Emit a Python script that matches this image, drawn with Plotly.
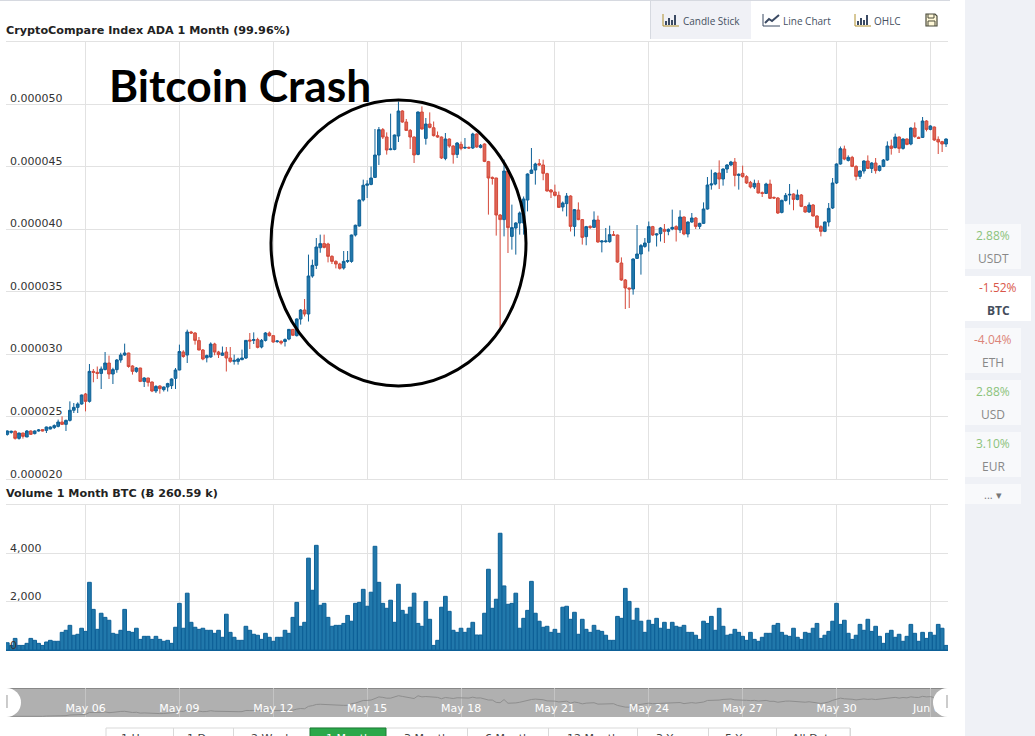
import pandas as pd
import plotly.graph_objects as go

W, H = 1035, 736

# ADA/BTC prices in millionths of a BTC, one candle every 3 hours
opens = [23.57,23.73,23.81,23.25,23.68,23.36,23.84,23.63,23.84,23.95,
 23.89,24.0,24.11,24.21,24.56,24.37,24.69,25.5,25.73,26.0,
 26.8,26.21,28.61,28.53,28.45,28.75,29.28,28.4,28.75,29.52,
 29.92,30.08,29.04,28.61,28.88,27.81,28.08,27.76,27.04,27.44,
 27.15,27.36,27.47,28.05,28.72,30.16,29.92,31.76,31.68,31.07,
 30.32,29.7,29.76,30.8,30.16,29.9,30.16,29.68,29.41,29.41,
 29.55,29.68,31.12,31.09,31.15,30.56,31.09,31.68,31.47,30.99,
 31.01,31.0,31.2,31.97,31.47,32.8,33.52,33.2,36.24,37.09,
 38.5,38.83,38.8,37.81,37.41,37.2,36.88,37.41,37.41,39.52,
 40.24,42.32,43.5,43.57,44.13,45.92,47.95,47.36,46.35,46.37,
 47.44,49.44,48.56,47.89,47.36,45.97,49.36,47.25,48.4,48.1,
 47.47,47.36,45.65,47.2,46.64,45.97,46.77,46.48,46.53,46.48,
 47.6,46.53,46.8,45.39,44.13,44.08,41.12,40.75,44.64,39.41,
 40.08,40.48,40.48,42.32,44.45,44.72,45.23,45.12,44.43,43.12,
 42.96,42.69,41.76,42.03,42.64,40.21,41.52,40.75,39.39,40.21,
 40.13,40.72,38.96,38.99,38.99,39.55,39.52,37.28,35.92,35.28,
 35.2,37.65,38.0,38.61,38.93,40.19,39.52,39.63,39.97,39.81,
 40.0,40.19,39.92,40.96,39.6,40.56,40.88,40.21,40.45,41.6,
 43.52,43.6,44.48,44.0,44.8,45.12,45.36,44.29,44.45,44.19,
 43.73,43.36,43.65,42.91,42.85,43.6,42.53,42.48,41.33,42.29,
 42.72,42.8,42.37,42.72,41.79,41.36,41.92,41.04,40.19,39.81,
 40.56,41.68,43.68,45.2,46.4,45.49,45.73,45.01,44.21,44.64,
 45.44,44.85,45.28,44.69,45.01,45.52,46.64,46.51,47.36,46.45,
 47.2,46.8,48.08,47.33,47.33,48.64,47.97,48.16,47.17,46.99,46.8]

closes = [23.84,23.81,23.25,23.68,23.41,23.84,23.57,23.84,23.92,23.84,
 24.16,24.16,24.27,24.56,24.37,24.69,25.5,25.73,26.0,26.72,
 26.21,28.61,28.53,28.45,28.8,29.28,28.4,28.75,29.52,29.92,
 30.08,29.0,28.61,28.88,27.81,28.08,27.73,27.04,27.41,27.23,
 27.36,27.63,28.0,28.72,30.2,29.8,31.76,31.68,31.09,30.32,
 29.6,29.87,30.8,30.16,29.95,30.08,29.68,29.41,29.49,29.6,
 29.68,31.09,31.04,31.15,30.53,31.09,31.68,31.47,30.96,31.04,
 30.88,31.15,31.97,31.5,32.8,33.52,33.2,36.24,37.09,38.56,
 38.83,38.53,37.81,37.41,37.2,36.85,37.41,37.47,39.52,40.3,
 42.32,43.5,43.6,44.08,45.92,47.95,47.36,46.32,46.4,47.52,
 49.44,48.56,47.89,47.36,45.92,49.36,48.0,48.4,48.13,47.47,
 47.36,45.68,47.2,46.64,45.95,46.88,46.45,46.53,46.48,47.6,
 46.56,46.69,45.41,44.08,44.05,41.12,40.75,44.64,40.11,40.11,
 40.48,41.28,42.4,44.4,44.72,45.2,45.12,44.45,43.04,42.96,
 42.69,41.73,42.08,42.64,40.21,41.55,40.75,39.33,40.19,40.13,
 40.72,38.96,39.04,39.04,39.55,39.5,37.36,35.92,35.28,35.2,
 37.6,38.0,38.67,38.88,40.19,39.52,39.6,40.08,39.81,39.97,
 40.13,39.97,40.96,39.6,40.56,40.88,40.21,40.45,41.6,43.52,
 43.6,44.48,44.0,44.8,45.12,45.36,44.29,44.37,44.19,43.68,
 43.36,43.65,42.88,42.85,43.6,42.45,42.48,41.28,42.29,42.69,
 42.77,42.37,42.72,41.81,41.36,41.92,41.04,40.13,39.81,40.56,
 41.65,43.68,45.2,46.43,45.6,45.73,45.01,44.21,44.64,45.44,
 44.85,45.28,44.67,45.04,45.52,46.64,46.45,47.36,46.45,47.2,
 46.77,48.08,47.39,47.25,48.64,47.97,48.24,47.12,46.96,46.8,47.2]

highs = [23.89,23.87,23.89,23.70,23.70,23.92,23.89,23.89,24.0,23.97,
 24.19,24.21,24.37,24.75,25.01,24.75,26.21,26.08,26.13,26.75,
 26.88,29.2,28.8,29.0,29.0,30.16,29.87,28.9,29.6,30.1,
 30.83,30.1,29.1,28.95,28.9,28.15,28.1,27.8,27.5,27.5,
 27.4,27.7,28.05,28.88,30.75,30.3,31.95,31.85,31.75,31.36,
 30.4,29.95,30.93,30.9,30.25,30.6,30.56,30.56,29.95,29.7,
 30.35,31.1,31.68,31.73,31.3,31.2,31.75,31.8,31.5,31.1,
 31.1,31.25,32.0,32.0,32.85,33.6,34.4,37.95,37.55,39.28,
 39.55,39.55,38.9,37.9,37.5,37.3,38.24,38.24,39.55,40.35,
 42.35,43.95,43.9,45.0,48.0,48.16,48.08,47.73,49.23,47.55,
 50.2,49.5,48.8,48.0,47.4,49.4,49.81,48.88,49.33,48.6,
 47.8,47.4,47.68,47.25,46.7,46.95,46.99,47.28,46.6,47.7,
 47.65,46.8,46.85,45.45,44.2,44.1,41.2,45.55,44.7,41.95,
 40.55,41.4,42.6,44.45,46.48,45.3,45.6,45.55,44.5,43.2,
 43.55,43.0,42.2,42.88,42.7,41.6,42.13,40.8,40.25,40.3,
 41.41,41.07,39.1,40.08,40.27,39.84,39.55,37.73,36.0,35.3,
 37.65,40.32,38.8,39.28,40.6,40.25,39.65,40.15,40.4,40.05,
 41.55,40.3,41.5,41.0,40.6,41.28,40.95,40.5,42.13,44.16,
 44.75,44.55,45.49,44.85,45.2,45.45,45.68,44.45,45.07,44.3,
 43.85,43.95,43.9,43.0,43.7,43.95,42.6,42.55,42.35,42.88,
 43.6,42.85,43.15,42.8,41.85,42.13,42.0,41.1,40.3,40.6,
 42.08,44.08,45.25,46.6,46.67,45.89,45.85,45.1,44.7,45.5,
 45.89,45.35,45.68,45.1,45.6,47.01,47.15,47.63,47.4,47.25,
 47.25,48.13,48.53,47.4,48.96,48.7,48.3,48.2,47.41,47.05,47.25]

lows = [23.47,23.63,23.15,23.15,23.23,23.36,23.52,23.57,23.79,23.81,
 23.68,23.97,24.0,24.13,24.32,23.84,24.6,25.28,25.28,25.95,
 25.41,26.11,27.74,28.0,27.2,28.7,28.0,27.6,28.5,29.3,
 29.85,28.9,28.35,28.5,27.75,27.36,27.4,26.95,26.88,26.83,
 27.0,27.0,27.2,27.2,28.7,29.7,29.28,31.6,30.75,30.3,
 29.5,29.33,29.7,29.9,29.68,29.85,28.6,29.3,29.15,29.15,
 29.5,29.6,30.4,30.8,30.45,30.45,31.0,31.4,30.9,30.9,
 30.75,30.6,31.1,31.45,31.4,32.35,33.0,32.6,36.1,36.8,
 38.1,38.45,37.33,37.2,36.85,36.75,36.75,37.28,37.3,39.4,
 40.2,42.2,42.48,43.5,44.1,45.12,47.2,45.95,46.3,46.3,
 46.96,48.5,47.85,46.4,45.28,45.9,47.95,46.75,48.05,47.4,
 47.3,45.6,45.5,46.5,45.23,45.68,46.3,46.4,46.4,46.4,
 46.5,46.45,45.35,41.15,43.55,39.47,32.08,39.41,38.08,38.35,
 37.95,39.55,39.55,41.41,44.4,43.55,45.05,43.9,43.0,42.48,
 42.6,41.7,41.41,41.01,39.8,39.41,40.7,38.75,38.7,40.0,
 40.1,38.9,38.13,38.9,38.9,39.45,37.3,35.85,33.6,33.68,
 34.75,37.6,36.35,38.5,38.2,39.45,38.6,39.0,38.88,39.5,
 39.9,39.0,39.68,39.5,39.33,40.5,40.0,40.0,40.4,41.55,
 43.15,43.5,43.2,43.47,44.48,45.05,43.41,43.15,44.1,43.6,
 43.25,43.2,42.85,42.56,42.8,42.4,42.4,41.2,41.25,42.2,
 41.95,41.5,42.3,41.75,41.3,41.3,41.0,40.05,39.41,39.75,
 40.2,41.6,43.6,45.15,45.5,45.4,44.95,43.89,44.0,44.43,
 44.8,44.48,44.43,44.6,44.95,45.45,45.95,46.45,46.08,46.35,
 46.7,46.7,47.3,47.2,47.28,47.81,47.9,47.05,46.0,46.16,46.56]

volumes = [300,190,480,190,190,275,480,400,275,190,
 330,400,360,360,730,815,1020,610,650,900,
 770,2800,1680,855,1520,1350,1230,690,650,815,
 1680,770,730,900,440,565,565,440,565,440,
 360,400,275,940,1930,900,2350,1145,940,855,
 900,815,815,690,815,525,1480,730,525,400,
 400,980,815,650,610,440,690,525,360,525,
 525,815,690,1350,1970,980,1145,3800,2470,4330,
 1850,1930,1350,980,1020,1020,1100,1430,1190,1930,
 1970,2510,1810,2390,4290,2800,1930,1725,2060,1145,
 2720,1640,1480,1770,2350,1100,980,2010,1270,190,
 400,1770,2220,1600,815,730,900,730,900,1145,
 620,620,1520,3340,1725,2100,4830,2650,1890,1930,
 2350,900,1310,1640,2840,1520,1190,940,980,730,
 855,690,1770,1810,1270,1560,650,1270,855,730,
 1020,815,770,610,400,400,1390,1310,2550,2010,
 1230,1725,1190,730,1230,1060,1310,900,1145,855,
 1145,980,940,1020,730,730,610,440,1190,1100,
 1390,815,1725,980,610,650,855,730,565,400,
 730,440,360,525,690,690,1020,1100,730,610,
 565,900,525,440,730,690,900,1100,480,610,
 770,1190,1930,1060,1230,690,440,610,1060,815,
 1270,770,980,565,275,690,815,525,650,360,
 565,1060,690,360,730,480,730,610,1060,900,190]

price_ticks = [20,25,30,35,40,45,50]
price_labels = ["0.000020","0.000025","0.000030","0.000035","0.000040","0.000045","0.000050"]
volume_ticks = [0,2000,4000]
volume_labels = ["0","2,000","4,000"]
date_ticks = ["2018-05-06","2018-05-09","2018-05-12","2018-05-15","2018-05-18","2018-05-21","2018-05-24","2018-05-27","2018-05-30","2018-06-02"]
date_labels = ["May 06","May 09","May 12","May 15","May 18","May 21","May 24","May 27","May 30","Jun 02"]
range_buttons = ["1 Hour","1 Day","2 Week","1 Month","3 Month","6 Month","12 Month","3 Year","5 Year","All Data"]
currencies = ["USDT","BTC","ETH","USD","EUR"]
changes = ["2.88%","-1.52%","-4.04%","2.88%","3.10%"]

times = pd.date_range("2018-05-03 12:00", periods=len(opens), freq="3h")
scale = 1e-6
x_range = ["2018-05-03 11:00", "2018-06-02 13:30"]

def px(x): return x / W
def py(y): return 1 - y / H

GRID = "#e2e2e2"
fig = go.Figure()
fig.add_trace(go.Candlestick(
    x=times, open=[v*scale for v in opens], high=[v*scale for v in highs],
    low=[v*scale for v in lows], close=[v*scale for v in closes],
    increasing=dict(line=dict(color="#0d6097", width=1), fillcolor="#2178ab"),
    decreasing=dict(line=dict(color="#d5493a", width=1), fillcolor="#dd6657"),
    whiskerwidth=0, xaxis="x", yaxis="y", showlegend=False))
fig.add_trace(go.Bar(x=times, y=volumes, xaxis="x2", yaxis="y2", showlegend=False,
    marker=dict(color="#2178ab", line=dict(color="#0d6097", width=1))))
fig.add_trace(go.Scatter(x=times, y=closes, xaxis="x3", yaxis="y3", mode="lines",
    line=dict(color="#8e8e8e", width=1), showlegend=False))

xdom = [px(6), px(948)]
common_x = dict(type="date", range=x_range, domain=xdom, tickvals=date_ticks,
                showgrid=True, gridcolor=GRID, zeroline=False, showline=False, ticks="",
                rangeslider=dict(visible=False))
tick_font = dict(family="DejaVu Sans", size=11, color="#333333")
shapes, annotations = [], []

def rect(x0, y0, x1, y1, fill, line=None, layer="below", width=1):
    shapes.append(dict(type="rect", xref="paper", yref="paper", x0=px(x0), x1=px(x1), y0=py(y0), y1=py(y1),
                       fillcolor=fill, line=dict(color=line or fill, width=width if line else 0), layer=layer))

def path(points, color, width=1.2, layer="above", fill=None, close=False):
    d = "M " + " L ".join(f"{px(a):.5f},{py(b):.5f}" for a, b in points) + (" Z" if close else "")
    shapes.append(dict(type="path", xref="paper", yref="paper", path=d, layer=layer,
                       line=dict(color=color, width=width), fillcolor=fill))

def text(x, y, s, size=11, color="#333333", family="Open Sans", anchor="left"):
    annotations.append(dict(xref="paper", yref="paper", x=px(x - 2 if anchor == "left" else x), y=py(y), text=s,
                            showarrow=False, xanchor=anchor, yanchor="middle",
                            font=dict(family=family, size=size, color=color)))

def axis_label(value, label, yref, bottom_px):
    # A label on the axis minimum is placed against the panel edge, because
    # plotly hides data-anchored annotations that sit exactly on the range end.
    on_edge = value == min(price_ticks) * scale or value == 0
    annotations.append(dict(xref="paper", yref="paper" if on_edge else yref,
                            x=px(7.5), y=py(bottom_px) if on_edge else value, yshift=5, text=label,
                            showarrow=False, xanchor="left", yanchor="middle", font=tick_font))

for v, lab in zip(price_ticks, price_labels):
    axis_label(v*scale, lab, "y", 479)
for v, lab in zip(volume_ticks, volume_labels):
    axis_label(v, lab, "y2", 650)

# page furniture
rect(965, 0, W, H, "#eff1f6")
rect(0, 0, 950, 1, "#d6d9e0")
rect(650, 1, 751, 39, "#f0f1f6")
rect(650, 1, 651, 39, "#d6d9e0")
for gy in (41, 479, 504):
    rect(6, gy, 948, gy + 1, GRID)

# toolbar
INK = "#3b4a63"
for x0, lab, tx in [(663, "Candle Stick", 683), (855, "OHLC", 874)]:
    path([(x0, 14), (x0, 26), (x0+16, 26)], "#b0902f", 1)
    for dx, top in [(3, 21), (6, 18), (9, 20), (12, 15)]:
        path([(x0+dx, top), (x0+dx, 25)], INK, 2)
    text(tx, 21, lab, 10, "#45505f")
path([(763, 14), (763, 26), (780, 26)], INK, 1)
path([(765, 23), (769, 19), (772, 21), (779, 15)], INK, 2)
text(783, 21, "Line Chart", 10, "#45505f")
path([(926, 14), (935, 14), (937, 16), (937, 26), (926, 26)], "#4a4a3a", 1.2, close=True, fill="#fff8d8")
path([(928, 14), (928, 18), (934, 18), (934, 14)], "#4a4a3a", 1)
path([(928, 26), (928, 21), (935, 21), (935, 26)], "#4a4a3a", 1)

# titles
text(6, 30, "<b>CryptoCompare Index ADA 1 Month (99.96%)</b>", 11.2, "#222222", "DejaVu Sans")
text(6, 493, "<b>Volume 1 Month BTC (Ƀ 260.59 k)</b>", 11.2, "#222222", "DejaVu Sans")
text(109, 85, "<b>Bitcoin Crash</b>", 44.3, "#000000", "Lato")

# circle
shapes.append(dict(type="circle", xref="paper", yref="paper", x0=px(271), x1=px(526), y0=py(386), y1=py(100),
                   line=dict(color="#000000", width=3), layer="above"))

# navigator
rect(6, 688, 948, 717, "#b0b0b0")
rect(6, 688, 948, 689, "#888888")
for cx0, cx1, tick in [(-8, 21, 7), (933, 962, 947)]:
    shapes.append(dict(type="circle", xref="paper", yref="paper", x0=px(cx0), x1=px(cx1), y0=py(717), y1=py(688),
                       fillcolor="#ffffff", line=dict(width=0), layer="above"))
    path([(tick, 695), (tick, 708)], "#999999", 1)

# range buttons
edges = [106, 173, 233, 310, 386, 467, 548, 637, 708, 776, 850]
rect(106, 728, 850, 745, "#ffffff", "#d9d9d9")
for i, lab in enumerate(range_buttons):
    x0, x1 = edges[i], edges[i+1]
    active = lab == "1 Month"
    if active:
        rect(x0, 728, x1, 745, "#2ba84a", "#1d7d35")
    else:
        rect(x1, 728, x1+1, 745, "#d9d9d9")
    text((x0+x1)/2, 738, lab, 11, "#ffffff" if active else "#444444", "DejaVu Sans", "center")

# currency cards
tops = [224, 276, 328, 380, 432]
val_colors = ["#8cc37b", "#d9574a", "#dc8478", "#8cc37b", "#8cc37b"]
for c, ch, top, col in zip(currencies, changes, tops, val_colors):
    sel = c == "BTC"
    rect(965, top, 1031 if sel else 1021, top+45, "#ffffff" if sel else "#f8f9fb", layer="below")
    mid = 998 if sel else 993
    text(mid, top+11, ch, 12, col, "Open Sans", "center")
    text(mid, top+34, f"<b>{c}</b>" if sel else c, 12, "#444d5c" if sel else "#888888", "Open Sans", "center")
rect(965, 484, 1021, 504, "#f8f9fb")
text(993, 494, "... ▾", 11, "#777777", "Open Sans", "center")

fig.update_layout(
    width=W, height=H, margin=dict(l=0, r=0, t=0, b=0),
    paper_bgcolor="#ffffff", plot_bgcolor="rgba(0,0,0,0)", bargap=0.06, boxgap=0.02,
    xaxis=dict(common_x, anchor="y", showticklabels=False),
    xaxis2=dict(common_x, anchor="y2", showticklabels=False, showline=True, linecolor="#0d6097", linewidth=1),
    xaxis3=dict(common_x, anchor="y3", ticktext=date_labels, ticklabelposition="inside",
                gridcolor="#c4c4c4", tickfont=dict(family="DejaVu Sans", size=11, color="#ffffff")),
    yaxis=dict(domain=[py(479), py(41)], range=[20e-6, 55.04e-6], tickvals=[v*scale for v in price_ticks],
               showticklabels=False, gridcolor=GRID, zeroline=False, showline=False, ticks="", anchor="x"),
    yaxis2=dict(domain=[py(650), py(504)], range=[0, 6040], tickvals=volume_ticks, showticklabels=False,
                gridcolor=GRID, zeroline=False, showline=False, ticks="", anchor="x2"),
    yaxis3=dict(domain=[py(717), py(688)], range=[23, 59], showgrid=False, showticklabels=False,
                zeroline=False, anchor="x3"),
    shapes=shapes, annotations=annotations,
)
fig.write_html("out.html", config=dict(displayModeBar=False),
               post_script="document.body.style.margin='0';document.body.style.overflow='hidden';")
